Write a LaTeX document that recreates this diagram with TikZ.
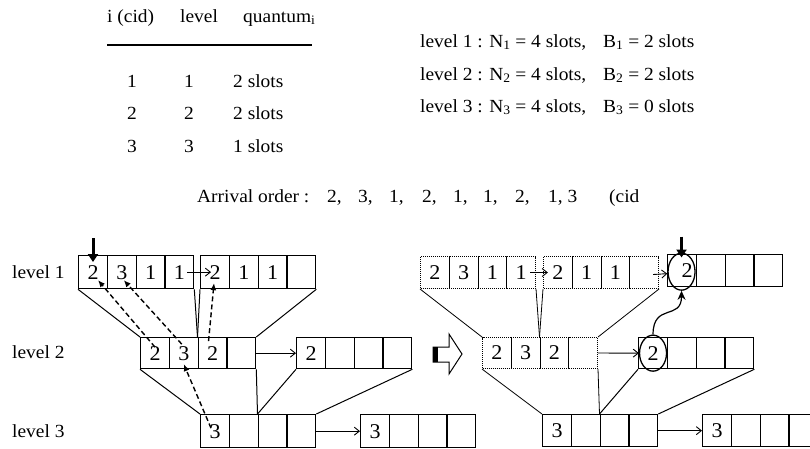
\documentclass[tikz,border=0pt]{standalone}
\usepackage{fontspec}
\setmainfont{Liberation Serif}[FakeStretch=1.05]
\usetikzlibrary{arrows.meta,shapes.geometric}
\newcommand\cellrow[6]{% name, x, ytop, style, height, list
  \foreach \t [count=\i] in {#6}
    \node[#4, minimum height=#5pt] (#1\i) at ({#2+(\i-1)*28.75},#3) {\t};}
\begin{document}
\begin{tikzpicture}[x=1pt,y=-1pt,
  txt/.style={inner sep=0pt, anchor=base west, font=\fontsize{18.5}{18.5}\selectfont},
  ctxt/.style={inner sep=0pt, anchor=base, font=\fontsize{18.5}{18.5}\selectfont},
  lbl/.style={inner sep=0pt, anchor=base west, font=\fontsize{18.5}{18.5}\selectfont},
  cell/.style={draw, line width=1.3pt, minimum width=28.75pt, inner sep=0pt,
    anchor=north west, font=\fontsize{21}{21}\selectfont},
  dcell/.style={cell, line width=1pt, dash pattern=on 1pt off 1pt},
  link/.style={line width=1pt},
  thinarrow/.style={line width=0.9pt, -{Straight Barb[length=5pt,width=8pt]}},
  dasharrow/.style={line width=1.4pt, dash pattern=on 5pt off 3pt, -{Latex[length=7pt,width=6pt]}},
  boldarrow/.style={line width=3pt, -{Triangle[length=8pt,width=10pt]}},
  ring/.style={ellipse, draw, line width=1.3pt, inner sep=0pt}]
\useasboundingbox (0,0) rectangle (810,448);
\clip (0,0) rectangle (810,448);

% ---------- table ----------
\node[txt] (h1) at (107,22) {i (cid)};
\node[txt] (h2) at (180,22) {level};
\node[txt] (h3) at (243,22) {quantum\textsubscript{i}};
\coordinate (ruleL) at (107,45);
\coordinate (ruleR) at (312,45);
\draw[line width=1.3pt] (ruleL) -- (ruleR);
\node[ctxt] (r1a) at (132,87) {1};
\node[ctxt] (r1b) at (189,87) {1};
\node[txt]  (r1c) at (233,87) {2 slots};
\node[ctxt] (r2a) at (132,119) {2};
\node[ctxt] (r2b) at (189,119) {2};
\node[txt]  (r2c) at (233,119) {2 slots};
\node[ctxt] (r3a) at (132,152) {3};
\node[ctxt] (r3b) at (189,152) {3};
\node[txt]  (r3c) at (233,152) {1 slots};

% ---------- level parameters ----------
\node[txt] (p1) at (420,47) {level 1 : N\textsubscript{1} = 4 slots,};
\node[txt] (q1) at (603,47) {B\textsubscript{1} = 2 slots};
\node[txt] (p2) at (420,80) {level 2 : N\textsubscript{2} = 4 slots,};
\node[txt] (q2) at (603,80) {B\textsubscript{2} = 2 slots};
\node[txt] (p3) at (420,112) {level 3 : N\textsubscript{3} = 4 slots,};
\node[txt] (q3) at (603,112) {B\textsubscript{3} = 0 slots};

% ---------- arrival order ----------
\node[txt] (ao)  at (197,202) {Arrival order :};
\node[txt] (ao1) at (327,202) {2,};
\node[txt] (ao2) at (358,202) {3,};
\node[txt] (ao3) at (389,202) {1,};
\node[txt] (ao4) at (422,202) {2,};
\node[txt] (ao5) at (453,202) {1,};
\node[txt] (ao6) at (483,202) {1,};
\node[txt] (ao7) at (515,202) {2,};
\node[txt] (ao8) at (548,202) {1, 3};
\node[txt] (ao9) at (609,202) {(cid};

% ---------- level labels ----------
\node[lbl] (L1) at (12,278) {level 1};
\node[lbl] (L2) at (12,358) {level 2};
\node[lbl] (L3) at (12,437) {level 3};

% ---------- left structure ----------
\cellrow{LA}{78}{255}{cell}{33}{2,3,1,1}
\cellrow{LB}{200}{255}{cell}{33}{2,1,1,{}}
\cellrow{LM}{140}{337}{cell}{31}{2,3,2,{}}
\cellrow{LN}{296}{337}{cell}{31}{2,{},{},{}}
\cellrow{LP}{200}{414}{cell}{33}{3,{},{},{}}
\cellrow{LQ}{360}{414}{cell}{33}{3,{},{},{}}

\draw[link] (LA1.south west) -- (LM1.north west);
\draw[link] (LA4.south east) -- (LM3.north west);
\draw[link] (LB1.south west) -- (LM3.north west);
\draw[link] (LB4.south east) -- (LM4.north east);
\draw[link] (LM1.south west) -- (LP1.north west);
\draw[link] (LM4.south east) -- (LP3.north west);
\draw[link] (LN1.south west) -- (LP3.north west);
\draw[link] (LN4.south east) -- (LP4.north east);

\draw[thinarrow] ([xshift=8pt]LA4.center) -- ([xshift=-4pt]LB1.center);
\draw[thinarrow] (LM4.east) -- (LN1.west);
\draw[thinarrow] (LP4.east) -- (LQ1.west);

\draw[boldarrow] ([yshift=17pt]LA1.north) -- ([yshift=-7pt]LA1.north);

\draw[dasharrow] ([xshift=0pt,yshift=6pt]LM1.center) -- ([xshift=5pt,yshift=-8pt]LA1.center);
\draw[dasharrow] ([xshift=-2pt,yshift=9pt]LM2.center) -- ([xshift=2pt,yshift=-8pt]LA2.center);
\draw[dasharrow] ([xshift=-4pt,yshift=12pt]LM3.center) -- ([xshift=-1pt,yshift=-11pt]LB1.center);
\draw[dasharrow] ([xshift=-4pt,yshift=3pt]LP1.center) -- ([xshift=0pt,yshift=-11pt]LM2.center);

% ---------- transition arrow ----------
\draw[line width=1pt] (433,347) -- (449,347) -- (449,334) -- (462,354) -- (449,374) -- (449,362) -- (433,362) -- cycle;
\fill (433,347) rectangle (438,362);

% ---------- right structure ----------
\cellrow{RA}{420}{256}{dcell}{32}{2,3,1,1}
\cellrow{RB}{543}{256}{dcell}{32}{2,1,1,{}}
\cellrow{RC}{667}{254}{cell}{32}{{\hspace*{10pt}2},{},{},{}}
\cellrow{RM}{482}{337}{dcell}{31}{2,3,2,{}}
\cellrow{RN}{638}{337}{cell}{31}{2,{},{},{}}
\cellrow{RP}{542}{414}{cell}{32}{3,{},{},{}}
\cellrow{RQ}{702}{414}{cell}{32}{3,{},{},{}}

\node[ring, minimum width=27pt, minimum height=37pt] (eC) at ([xshift=-0.5pt,yshift=-1pt]RC1.center) {};
\node[ring, minimum width=27pt, minimum height=36pt] (eN) at (RN1.center) {};

\draw[link, line width=0.8pt] (RA1.south west) -- (RM1.north west);
\draw[link, line width=0.8pt] (RA4.south east) -- (RM3.north west);
\draw[link, line width=0.8pt] (RB1.south west) -- (RM3.north west);
\draw[link, line width=0.8pt] (RB4.south east) -- (RM4.north east);
\draw[link, line width=0.8pt] (RM1.south west) -- (RP1.north west);
\draw[link, line width=0.8pt] (RM4.south east) -- (RP3.north west);
\draw[link] (RN1.south west) -- (RP3.north west);
\draw[link] (RN4.south east) -- (RP4.north east);

\draw[thinarrow] ([xshift=9pt]RA4.center) -- ([xshift=-10pt]RB1.center);
\draw[thinarrow] ([xshift=9pt,yshift=-2pt]RB4.center) -- ([yshift=-2pt]eC.west);
\draw[thinarrow] (RM4.east) -- (eN.west);
\draw[thinarrow] (RP4.east) -- (RQ1.west);

\draw[boldarrow] ([yshift=16pt]eC.north) -- ([yshift=-5pt]eC.north);
\draw[line width=1.2pt, -{Stealth[length=9pt,width=8pt]}]
  (eN.north) .. controls +(0,-32) and +(0,30) .. (eC.south);
\end{tikzpicture}
\end{document}
